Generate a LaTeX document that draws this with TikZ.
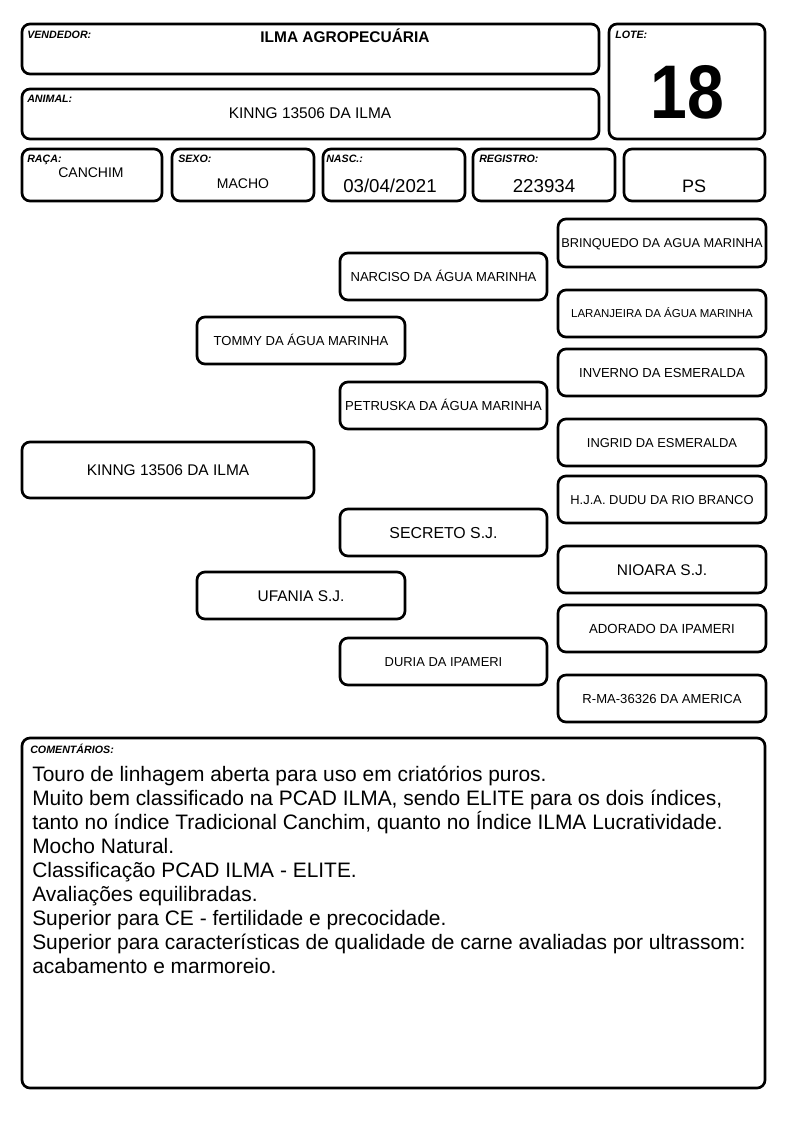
\documentclass[tikz,border=0pt]{standalone}
\usepackage{fontspec}
\usepackage{graphicx}
\setmainfont{Liberation Sans}
\tikzset{
  boxst/.style={draw=black, line width=2pt, rounded corners=6pt, inner sep=0pt, fill=white},
  lbl/.style={anchor=base west, inner sep=0pt, font=\fontsize{8}{9}\selectfont\bfseries\itshape},
  val/.style={anchor=base, inner sep=0pt, font=\fontsize{#1}{#1}\selectfont},
  ped/.style={font=\fontsize{#1}{#1}\selectfont, text depth=0pt},
  cmt/.style={anchor=base west, inner sep=0pt, font=\fontsize{15.7}{18}\selectfont},
}
% [options]{name}{x1}{y1}{x2}{y2}{text}
\newcommand\rbox[7][]{\node[boxst,#1,minimum width={(#5-#3)*0.75pt},minimum height={(#6-#4)*0.75pt}] (#2) at ({(#3+#5)/2},{(#4+#6)/2}) {#7};}
\begin{document}
\begin{tikzpicture}[x=0.75pt,y=-0.75pt]
\useasboundingbox (0,0) rectangle (794,1123);
\fill[white] (0,0) rectangle (794,1123);

% ---------- header ----------
\rbox{vend}{22}{24}{599}{74}{}
\rbox{anim}{22}{89}{599}{139}{}
\rbox{lote}{609}{24}{765}{139}{}
\rbox{raca}{22}{149}{162}{201}{}
\rbox{sexo}{172}{149}{314}{201}{}
\rbox{nasc}{323}{149}{465}{201}{}
\rbox{regi}{473}{149}{615}{201}{}
\rbox{ps}{624}{149}{765}{201}{}

\node[lbl] (lvend) at (27,39) {VENDEDOR:};
\node[lbl] (lanim) at (27,103) {ANIMAL:};
\node[lbl] (llote) at (615,39) {LOTE:};
\node[lbl] (lraca) at (27,163) {RAÇA:};
\node[lbl] (lsexo) at (178,163) {SEXO:};
\node[lbl] (lnasc) at (326,163) {NASC.:};
\node[lbl] (lregi) at (479,163) {REGISTRO:};

\node[val=11.6, font=\fontsize{11.6}{12}\selectfont\bfseries] (vvend) at (345,43) {ILMA AGROPECUÁRIA};
\node[val=11.6] (vanim) at (310,119) {KINNG 13506 DA ILMA};
\node[val=57, font=\fontsize{57}{60}\selectfont\bfseries] (vlote) at (687,119) {\scalebox{0.87}[1]{18}};
\node[val=10.5] (vraca) at (91,178) {CANCHIM};
\node[val=10.5] (vsexo) at (243,189) {MACHO};
\node[val=14] (vnasc) at (390,193) {03/04/2021};
\node[val=14] (vregi) at (544,193) {223934};
\node[val=13.5] (vps) at (694,193) {PS};

% ---------- pedigree ----------
\rbox[ped=11.6, text height=8.3pt]{kinng}{22}{442}{314}{498}{KINNG 13506 DA ILMA}
\rbox[ped=9.8, text height=7pt]{tommy}{197}{317}{405}{364}{TOMMY DA ÁGUA MARINHA}
\rbox[ped=11.6, text height=8.3pt]{ufania}{197}{572}{405}{619}{UFANIA S.J.}
\rbox[ped=9.8, text height=7pt]{narciso}{340}{253}{547}{300}{NARCISO DA ÁGUA MARINHA}
\rbox[ped=9.8, text height=7pt]{petruska}{340}{382}{547}{429}{PETRUSKA DA ÁGUA MARINHA}
\rbox[ped=11.9, text height=8.5pt]{secreto}{340}{509}{547}{556}{SECRETO S.J.}
\rbox[ped=9.7, text height=6.95pt]{duria}{340}{638}{547}{685}{DURIA DA IPAMERI}
\rbox[ped=9.6, text height=6.87pt]{brinquedo}{558}{219}{766}{267}{BRINQUEDO DA AGUA MARINHA}
\rbox[ped=8.6, text height=6.16pt]{laranjeira}{558}{290}{766}{337}{LARANJEIRA DA ÁGUA MARINHA}
\rbox[ped=9.8, text height=7pt]{inverno}{558}{349}{766}{396}{INVERNO DA ESMERALDA}
\rbox[ped=9.7, text height=6.95pt]{ingrid}{558}{419}{766}{466}{INGRID DA ESMERALDA}
\rbox[ped=9.7, text height=6.95pt]{hja}{558}{476}{766}{523}{H.J.A. DUDU DA RIO BRANCO}
\rbox[ped=11.6, text height=8.3pt]{nioara}{558}{546}{766}{593}{NIOARA S.J.}
\rbox[ped=9.9, text height=7.09pt]{adorado}{558}{605}{766}{652}{ADORADO DA IPAMERI}
\rbox[ped=9.8, text height=7pt]{rma}{558}{675}{766}{722}{R-MA-36326 DA AMERICA}

% ---------- comments ----------
\rbox{coment}{22}{738}{765}{1088}{}
\node[lbl] (lcom) at (30,753) {COMENTÁRIOS:};
\node[cmt] (c1) at (32,781) {Touro de linhagem aberta para uso em criatórios puros.};
\node[cmt] (c2) at (32,805) {Muito bem classificado na PCAD ILMA, sendo ELITE para os dois índices,};
\node[cmt] (c3) at (32,829) {tanto no índice Tradicional Canchim, quanto no Índice ILMA Lucratividade.};
\node[cmt] (c4) at (32,853) {Mocho Natural.};
\node[cmt] (c5) at (32,877) {Classificação PCAD ILMA - ELITE.};
\node[cmt] (c6) at (32,901) {Avaliações equilibradas.};
\node[cmt] (c7) at (32,925) {Superior para CE - fertilidade e precocidade.};
\node[cmt] (c8) at (32,949) {Superior para características de qualidade de carne avaliadas por ultrassom:};
\node[cmt] (c9) at (32,973) {acabamento e marmoreio.};
\end{tikzpicture}
\end{document}
